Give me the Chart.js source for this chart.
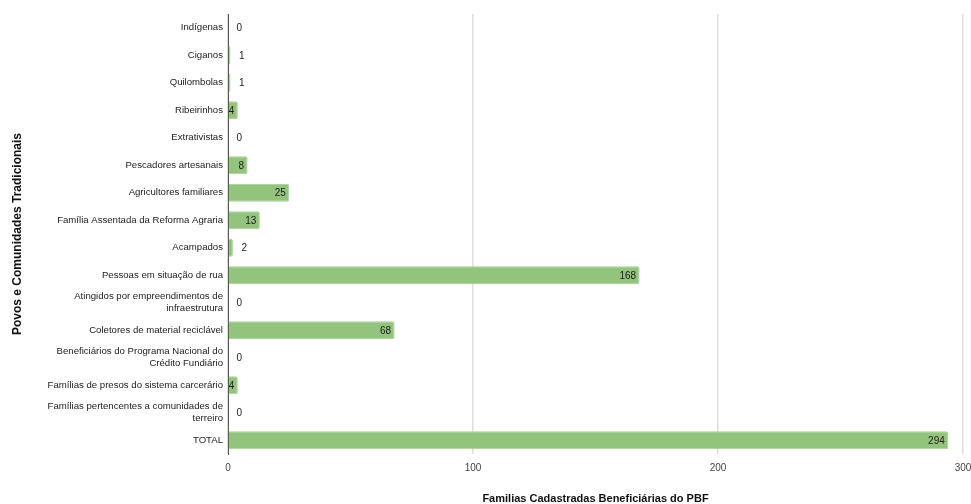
<!DOCTYPE html>
<html>
<head>
<meta charset="utf-8">
<script src="https://cdn.jsdelivr.net/npm/chart.js@4"></script>
<style>
html,body{margin:0;padding:0;background:#fff;}
#wrap{width:971px;height:504px;position:relative;}
</style>
</head>
<body>
<div id="wrap"><canvas id="c" width="971" height="504"></canvas></div>
<script>
const categories = [
  'Indígenas',
  'Ciganos',
  'Quilombolas',
  'Ribeirinhos',
  'Extrativistas',
  'Pescadores artesanais',
  'Agricultores familiares',
  'Família Assentada da Reforma Agraria',
  'Acampados',
  'Pessoas em situação de rua',
  ['Atingidos por empreendimentos de', 'infraestrutura'],
  'Coletores de material reciclável',
  ['Beneficiários do Programa Nacional do', 'Crédito Fundiário'],
  'Famílias de presos do sistema carcerário',
  ['Famílias pertencentes a comunidades de', 'terreiro'],
  'TOTAL'
];
const familias = [0, 1, 1, 4, 0, 8, 25, 13, 2, 168, 0, 68, 0, 4, 0, 294];
const xTicks = [0, 100, 200, 300];
const xTitle = 'Familias Cadastradas Beneficiárias do PBF';
const yTitle = 'Povos e Comunidades Tradicionais';

const FONT = '"Liberation Sans", Arial, sans-serif';

const valueLabels = {
  id: 'valueLabels',
  afterDatasetsDraw(chart) {
    const ctx = chart.ctx;
    const meta = chart.getDatasetMeta(0);
    ctx.save();
    ctx.font = '10px ' + FONT;
    ctx.fillStyle = '#222';
    ctx.textBaseline = 'middle';
    meta.data.forEach((bar, i) => {
      const txt = String(familias[i]);
      const w = ctx.measureText(txt).width;
      const barW = bar.x - bar.base;
      if (barW >= w + 3) {
        ctx.textAlign = 'right';
        ctx.fillText(txt, bar.x - 3.5, bar.y + 0.5);
      } else {
        ctx.textAlign = 'left';
        ctx.fillText(txt, bar.x + 8.5, bar.y + 0.5);
      }
    });
    ctx.restore();
  }
};

new Chart(document.getElementById('c'), {
  type: 'bar',
  data: {
    labels: categories,
    datasets: [{
      data: familias,
      backgroundColor: '#93c47d',
      borderColor: '#a6d191',
      borderWidth: 1,
      borderRadius: 2,
      borderSkipped: 'start',
      barPercentage: 0.65,
      categoryPercentage: 1
    }]
  },
  options: {
    indexAxis: 'y',
    responsive: false,
    animation: false,
    devicePixelRatio: 1,
    layout: { padding: { left: 2, right: 8, top: 14, bottom: 0 } },
    plugins: { legend: { display: false }, tooltip: { enabled: false } },
    scales: {
      x: {
        min: 0,
        max: 300,
        afterBuildTicks(scale) { scale.ticks = xTicks.map(v => ({ value: v })); },
        afterFit(scale) { scale.height = 50; scale.paddingRight = 0; },
        grid: { color: '#dedede', lineWidth: 1.5, drawTicks: false },
        border: { display: false },
        ticks: { color: '#444', font: { size: 10, family: FONT }, padding: 8 },
        title: {
          display: true,
          text: xTitle,
          color: '#111',
          font: { size: 11, weight: 'bold', family: FONT },
          padding: { top: 0, bottom: -2 }
        }
      },
      y: {
        afterFit(scale) { scale.width = 226; },
        grid: { display: false, drawTicks: false },
        border: { display: true, color: '#555', width: 1 },
        ticks: {
          autoSkip: false,
          color: '#222',
          padding: 5,
          font: { size: 9.6, family: FONT, lineHeight: 1.25 }
        },
        title: {
          display: true,
          text: yTitle,
          color: '#111',
          font: { size: 12, weight: 'bold', family: FONT },
          padding: { top: 8, bottom: 0 }
        }
      }
    }
  },
  plugins: [valueLabels]
});
</script>
</body>
</html>
